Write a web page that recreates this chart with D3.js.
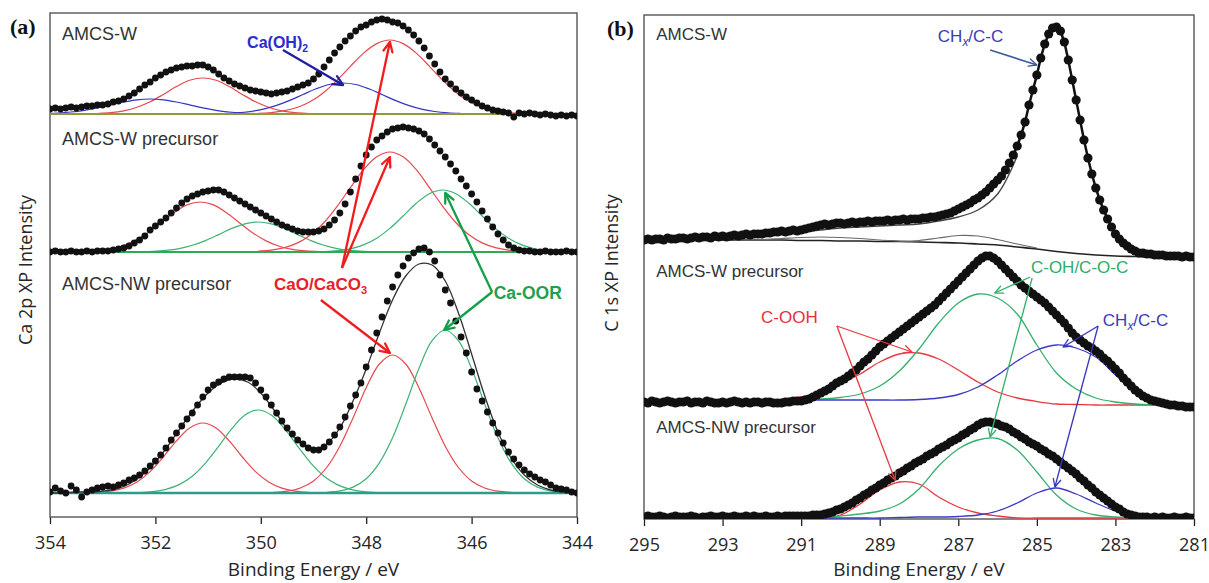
<!DOCTYPE html>
<html>
<head>
<meta charset="utf-8">
<script src="https://cdn.jsdelivr.net/npm/d3@7/dist/d3.min.js"></script>
<style>
  body { margin: 0; background: #fff; }
  svg { display: block; }
</style>
</head>
<body>
<script>
// ---------- Ca 2p panel (a) ----------
const caTicks = [354, 352, 350, 348, 346, 344];
const caDotStart = 354, caDotStep = 0.1, caPeakStep = 0.25;
const caOffsets = [403, 265, 24];

// measured points, intensity above each spectrum's baseline
const caW = [
  5, 6, 5, 6, 7, 6, 7, 8, 8, 9,
  9, 10, 12, 13, 15, 18, 21, 25, 29, 32,
  36, 39, 42, 44, 46, 47, 48, 48, 49, 49,
  47, 44, 40, 36, 33, 30, 28, 26, 24, 23,
  22, 21, 20, 21, 22, 23, 25, 27, 29, 31,
  35, 40, 47, 54, 61, 67, 73, 78, 83, 87,
  89, 92, 94, 95, 94, 92, 91, 88, 84, 79,
  73, 66, 58, 50, 42, 35, 30, 25, 21, 17,
  14, 11, 8, 6, 4, 3, 2, 1, -3, 1,
  0, 1, 0, -1, 0, -1, -2, -1, -2, -1, -2
];
const caWPre = [
  0, 1, 0, 0, 1, 0, 0, 1, 0, 1,
  1, 1, 2, 3, 4, 6, 9, 12, 16, 22,
  26, 30, 34, 39, 44, 49, 53, 56, 58, 60,
  61, 62, 62, 60, 57, 54, 51, 48, 45, 42,
  39, 36, 33, 30, 27, 25, 23, 21, 20, 20,
  20, 21, 23, 27, 32, 39, 48, 60, 73, 86,
  97, 105, 112, 116, 120, 123, 124, 125, 124, 123,
  121, 118, 113, 107, 101, 95, 88, 81, 73, 66,
  58, 50, 41, 33, 25, 18, 12, 7, 4, 2,
  1, 1, 0, 0, 1, 0, 0, 0, 1, 0, 0
];
const caNWPre = [
  1, 5, 2, 0, 7, 3, -4, 1, 3, 5,
  6, 7, 6, 8, 10, 13, 15, 18, 22, 27,
  32, 38, 45, 53, 60, 67, 74, 80, 88, 96,
  103, 108, 111, 114, 116, 116, 116, 116, 115, 110,
  103, 96, 88, 80, 72, 65, 59, 53, 49, 45,
  43, 43, 46, 51, 58, 66, 76, 87, 98, 110,
  126, 143, 160, 176, 192, 206, 218, 227, 235, 240,
  244, 245, 241, 232, 218, 203, 190, 172, 156, 140,
  121, 104, 92, 81, 70, 60, 50, 41, 34, 28,
  23, 19, 16, 13, 11, 8, 5, 4, 3, 1, 0
];
// envelope of the fit for AMCS-NW precursor, every 0.25 eV from 354
const caNWFit = [
  0, 0, 1, 1, 2, 4, 9, 18, 31, 48, 67, 85, 100, 110, 114, 111, 100, 83, 64, 50,
  44, 49, 65, 92, 124, 160, 193, 217, 229, 228, 212, 180, 139, 97, 61, 35, 18, 8, 3, 1, 0
];
// fitted components: [spectrum, species, first energy, values every 0.25 eV]
const caPeaks = [
  [0, "CaO", 353.35, [0.1, 0.5, 1.3, 3.2, 6.7, 12.2, 19.6, 27.5, 33.7, 36, 33.7, 27.5, 19.6, 12.2, 6.7, 3.2, 1.3, 0.5, 0.1]],
  [0, "CaO", 350.05, [0.6, 1.4, 3.3, 6.7, 12.7, 21.8, 33.9, 47.7, 60.9, 70.4, 74, 70.4, 60.9, 47.7, 33.9, 21.8, 12.7, 6.7, 3.3, 1.4, 0.6]],
  [0, "CaOH", 354.1, [0.4, 1.0, 2.0, 3.7, 6.2, 9.1, 12.0, 14.2, 15, 14.2, 12.0, 9.1, 6.2, 3.7, 2.0, 1.0, 0.4, 0.2]],
  [0, "CaOH", 350.95, [0.2, 0.5, 1.1, 2.5, 4.9, 8.6, 13.6, 19.5, 25.2, 29.5, 31, 29.5, 25.2, 19.5, 13.6, 8.6, 4.9, 2.5, 1.1, 0.5, 0.2]],
  [1, "CaO", 353.4, [0.4, 1.1, 2.6, 5.7, 11.1, 19.1, 29.1, 39.3, 47.1, 50, 47.1, 39.3, 29.1, 19.1, 11.1, 5.7, 2.6, 1.1, 0.4]],
  [1, "CaOOR", 352.3, [0.2, 0.6, 1.6, 3.4, 6.7, 11.4, 17.4, 23.6, 28.2, 30, 28.2, 23.6, 17.4, 11.4, 6.7, 3.4, 1.6, 0.6, 0.2]],
  [1, "CaO", 350.05, [0.8, 1.9, 4.4, 9.1, 17.2, 29.5, 45.8, 64.4, 82.3, 95.2, 100, 95.2, 82.3, 64.4, 45.8, 29.5, 17.2, 9.1, 4.4, 1.9, 0.8]],
  [1, "CaOOR", 348.8, [0.5, 1.3, 3.2, 7.1, 13.8, 23.6, 36.0, 48.7, 58.3, 62, 58.3, 48.7, 36.0, 23.6, 13.8, 7.1, 3.2, 1.3, 0.5]],
  [2, "CaO", 353.35, [0.2, 0.6, 1.9, 4.9, 11.0, 21.4, 36.0, 52.1, 65.0, 70, 65.0, 52.1, 36.0, 21.4, 11.0, 4.9, 1.9, 0.6, 0.2]],
  [2, "CaOOR", 352.3, [0.5, 1.4, 3.7, 8.4, 16.8, 29.9, 46.7, 64.3, 77.9, 83, 77.9, 64.3, 46.7, 29.9, 16.8, 8.4, 3.7, 1.4, 0.5]],
  [2, "CaO", 349.75, [0.6, 1.8, 5.0, 12.1, 25.5, 46.8, 75.1, 105.3, 129.0, 138, 129.0, 105.3, 75.1, 46.8, 25.5, 12.1, 5.0, 1.8, 0.6]],
  [2, "CaOOR", 348.75, [0.7, 2.1, 5.9, 14.3, 30.2, 55.3, 88.7, 124.4, 152.4, 163, 152.4, 124.4, 88.7, 55.3, 30.2, 14.3, 5.9, 2.1, 0.7]]
];

// ---------- C 1s panel (b) ----------
const cTicks = [295, 293, 291, 289, 287, 285, 283, 281];
const cDotStart = 295, cDotStep = 0.1, cPeakStep = 0.5;
const cOffsets = [279, 117, 2];

const cW = [
  0, 1, 0, 1, 1, 0, 2, 1, 1, 2,
  2, 1, 2, 3, 2, 3, 3, 2, 4, 3,
  4, 3, 4, 5, 4, 5, 6, 5, 6, 6,
  6, 7, 7, 8, 8, 9, 8, 9, 10, 9,
  10, 11, 12, 13, 14, 15, 16, 15, 16, 17,
  17, 16, 17, 18, 17, 18, 18, 19, 18, 19,
  19, 19, 20, 19, 20, 20, 21, 20, 21, 21,
  21, 22, 22, 23, 23, 24, 25, 26, 27, 29,
  31, 33, 35, 37, 40, 42, 45, 48, 52, 56,
  60, 64, 70, 77, 85, 94, 105, 118, 135, 150,
  165, 182, 196, 206, 212, 213, 209, 198, 180, 160,
  140, 120, 100, 82, 66, 52, 40, 30, 21, 13,
  6, 1, -3, -6, -9, -11, -13, -13, -14, -14,
  -15, -15, -15, -16, -16, -16, -16, -17, -16, -17,
  -17
];
const cWPre = [
  0, -1, 1, 0, -1, 0, 1, 0, -1, 0,
  0, 1, -1, 0, 0, -1, 1, 0, -1, -1,
  0, -1, 0, 1, 0, -1, 0, -1, 0, 0,
  -1, 0, 0, -1, -1, -1, 0, 0, 1, 1,
  1, 2, 3, 5, 7, 9, 11, 13, 16, 19,
  21, 23, 26, 29, 32, 36, 40, 43, 47, 51,
  55, 58, 61, 64, 67, 70, 73, 76, 79, 82,
  85, 88, 91, 94, 97, 101, 105, 109, 113, 117,
  121, 125, 129, 133, 137, 141, 144, 146, 146, 144,
  141, 137, 133, 129, 125, 121, 117, 114, 111, 108,
  105, 102, 99, 95, 91, 87, 83, 79, 74, 69,
  65, 62, 59, 56, 54, 51, 48, 44, 41, 37,
  33, 29, 24, 20, 16, 12, 9, 6, 4, 2,
  1, 0, -1, -2, -3, -3, -4, -4, -5, -5,
  -5
];
const cNWPre = [
  0, 1, 0, 0, 1, 0, -1, 0, 1, 0,
  0, 0, 1, 0, -1, 0, 0, 1, 0, 0,
  1, 0, 0, 1, 0, 0, 1, 0, 1, 0,
  0, 1, 0, 0, 1, 0, 1, 1, 1, 1,
  1, 1, 1, 2, 2, 2, 3, 4, 5, 7,
  8, 10, 12, 14, 17, 19, 22, 24, 27, 29,
  32, 34, 37, 39, 41, 44, 46, 49, 51, 54,
  56, 58, 61, 63, 65, 68, 70, 72, 75, 77,
  79, 82, 84, 87, 89, 92, 94, 95, 95, 94,
  93, 91, 90, 88, 85, 83, 80, 78, 75, 73,
  71, 68, 66, 63, 61, 58, 55, 52, 49, 46,
  43, 39, 36, 32, 29, 25, 22, 19, 16, 13,
  10, 8, 5, 3, 2, 1, 0, 0, 0, -1,
  0, -1, 0, -1, -1, 0, -1, -1, 0, -1,
  -1
];
// AMCS-W: background, two minor components and the shoulder of the fit (every 0.5 eV)
const cWBackground = [0, 0, 0, 0, 0, 0, 0, 0, -0.5, -0.5, -1, -1, -1.5, -1.5, -2, -2.5, -3, -4, -5, -7, -9, -11.5, -13.5, -15, -16, -16.5, -17, -17, -17];
const cWMinor = [
  [292.5, [0, 0.5, 1.5, 2.5, 3, 2.5, 1.5, 0, -1, -2]],
  [288.5, [-1.5, -0.5, 2, 4.5, 4, 0.5, -4, -8]]
];
const cWShoulder = [291.0, [8, 10, 12, 13, 14, 15, 16, 19, 23, 30, 46, 84]];
// fitted components: [spectrum, species, first energy, values every 0.5 eV]
const cPeaks = [
  [1, "COOH", 291.5, [3, 5, 10, 18, 28, 40, 48, 49, 43, 32, 20, 10, 4, 0.5, -2, -2.5, -3, -3, -3, -3]],
  [1, "COH", 291.0, [2, 3, 4.5, 8, 16, 31, 53, 79, 99, 108, 104, 88, 57, 29, 13, 4, 0, -2, -3]],
  [1, "CHx", 291.0, [2, 2, 2, 2, 2, 2, 2.5, 4, 7.5, 15, 27, 41, 52, 57, 54, 45, 27, 9]],
  [2, "COOH", 290.5, [-1, 2, 13, 27, 35, 33, 20, 10, 4, 1, -1, -1, -1, -1, -1, -1, -1]],
  [2, "COH", 290.5, [-1, 1, 3, 6, 13, 28, 51, 68, 77, 78.5, 67, 45, 22, 8, 2, 0, -1]],
  [2, "CHx", 290.5, [-1, -1, -1, -1, -0.5, 0, 0, 0.5, 2, 6, 14, 24, 29, 23, 14, 6, 1]]
];

// ---------- styles ----------
const lineColour = {
  CaO: "#e8484f", CaOH: "#3434c4", CaOOR: "#3db374",
  COOH: "#e8383f", COH: "#34b06c", CHx: "#3a3ac6"
};
const arrowColour = {
  CaO: "#f21c1c", CaOH: "#1f1fa0", CaOOR: "#14a04a",
  COOH: "#e83a40", COH: "#30b06a", CHx: "#3636c0", CHxTop: "#40599a"
};
const baselineColour = ["#8e9a3c", "#2eaa55", "#2e9c8c"];

const svg = d3.select("body").append("svg").attr("width", 1209).attr("height", 583);
const defs = svg.append("defs");

const caX = d3.scaleLinear().domain([354, 344]).range([50, 577]);
const caY = d3.scaleLinear().domain([0, 504]).range([517, 13]);
const cX = d3.scaleLinear().domain([295, 281]).range([644, 1194]);
const cY = d3.scaleLinear().domain([0, 504]).range([519, 15]);

function points(start, step, values, offset) {
  return values.map((v, i) => [start - i * step, offset + v]);
}

function frame(x, y, ticks, id) {
  const [left, right] = x.range();
  const [bottom, top] = y.range();
  defs.append("clipPath").attr("id", id).append("rect")
    .attr("x", left).attr("y", top).attr("width", right - left).attr("height", bottom - top);
  const axis = svg.append("g")
    .attr("transform", `translate(0,${bottom})`)
    .call(d3.axisBottom(x).tickValues(ticks).tickSize(7).tickSizeOuter(0).tickPadding(12).tickFormat(d3.format("d")));
  axis.select(".domain").remove();
  axis.selectAll("line").attr("stroke", "#222").attr("stroke-width", 1.3);
  axis.selectAll("text").attr("font-family", "Open Sans").attr("font-size", 18).attr("fill", "#262626");
  svg.append("rect")
    .attr("x", left).attr("y", top).attr("width", right - left).attr("height", bottom - top)
    .attr("fill", "none").attr("stroke", "#555").attr("stroke-width", 1.4);
  svg.append("text")
    .attr("x", (left + right) / 2).attr("y", 576)
    .attr("text-anchor", "middle").attr("font-family", "Open Sans").attr("font-size", 19).attr("fill", "#262626")
    .text("Binding Energy / eV");
  return svg.append("g").attr("clip-path", `url(#${id})`);
}

function arrowMarker(id, colour, size, width) {
  defs.append("marker").attr("id", id)
    .attr("viewBox", "0 0 10 10").attr("refX", 9).attr("refY", 5)
    .attr("markerWidth", size).attr("markerHeight", size)
    .attr("markerUnits", "userSpaceOnUse").attr("orient", "auto")
    .append("path").attr("d", "M1,1.2L9,5L1,8.8")
    .attr("fill", "none").attr("stroke", colour).attr("stroke-width", width)
    .attr("stroke-linecap", "round").attr("stroke-linejoin", "round");
}

function label(x, y, parts, opts) {
  const t = svg.append("text").attr("x", x).attr("y", y)
    .attr("font-family", opts.family || "Liberation Sans")
    .attr("font-size", opts.size).attr("font-weight", opts.weight || "normal")
    .attr("fill", opts.colour);
  parts.forEach(([s, kind]) => {
    const span = t.append("tspan").text(s);
    if (kind === "sub") span.attr("dy", 4).attr("font-size", opts.size * 0.65);
    if (kind === "subi") span.attr("dy", 4).attr("font-size", opts.size * 0.7).attr("font-style", "italic");
    if (kind === "up") span.attr("dy", -4);
  });
}

function yTitle(x, y, text) {
  svg.append("text").attr("transform", `translate(${x},${y}) rotate(-90)`)
    .attr("text-anchor", "middle").attr("font-family", "Open Sans").attr("font-size", 18).attr("fill", "#262626")
    .text(text);
}

// ---------- panel (a) ----------
const gA = frame(caX, caY, caTicks, "clipA");
const lineA = d3.line().x(d => caX(d[0])).y(d => caY(d[1]));
const smoothA = d3.line().x(d => caX(d[0])).y(d => caY(d[1])).curve(d3.curveCatmullRom.alpha(0.5));

caPeaks.forEach(([s, species, e0, vals]) => {
  gA.append("path").attr("d", smoothA(points(e0, caPeakStep, vals, caOffsets[s])))
    .attr("fill", "none").attr("stroke", lineColour[species]).attr("stroke-width", 1.2);
});
caOffsets.forEach((off, s) => {
  gA.append("path").attr("d", lineA([[354, off], [344, off]]))
    .attr("fill", "none").attr("stroke", baselineColour[s]).attr("stroke-width", s === 2 ? 2.4 : 2);
});
gA.append("path").attr("d", smoothA(points(354, caPeakStep, caNWFit, caOffsets[2])))
  .attr("fill", "none").attr("stroke", "#333").attr("stroke-width", 1.3);

[caW, caWPre, caNWPre].forEach((vals, s) => {
  gA.append("g").selectAll("circle")
    .data(points(caDotStart, caDotStep, vals, caOffsets[s]))
    .join("circle")
    .attr("cx", d => caX(d[0])).attr("cy", d => caY(d[1])).attr("r", 3.4).attr("fill", "#111");
});

// annotations (data coordinates)
const caArrows = [
  ["CaOH", [349.58, 467], [348.44, 432]],
  ["CaO", [348.46, 249], [347.55, 475]],
  ["CaO", [348.46, 249], [347.55, 360]],
  ["CaO", [348.86, 217], [347.55, 164]],
  ["CaOOR", [345.61, 225], [346.5, 324]],
  ["CaOOR", [345.61, 225], [346.52, 187]]
];
Object.keys(arrowColour).forEach(k => {
  arrowMarker("a-" + k, arrowColour[k], 12, 1.9);
  arrowMarker("b-" + k, arrowColour[k], 10, 1.3);
});
caArrows.forEach(([k, p0, p1]) => {
  svg.append("line")
    .attr("x1", caX(p0[0])).attr("y1", caY(p0[1]))
    .attr("x2", caX(p1[0])).attr("y2", caY(p1[1]))
    .attr("stroke", arrowColour[k]).attr("stroke-width", 2.3)
    .attr("marker-end", `url(#a-${k})`);
});

const caNames = [["AMCS-W", 477], ["AMCS-W precursor", 372], ["AMCS-NW precursor", 227]];
caNames.forEach(([name, v]) => label(caX(353.77), caY(v), [[name]], { size: 18, colour: "#333" }));
label(caX(350.26), caY(469), [["Ca(OH)"], ["2", "sub"]], { size: 16, weight: "bold", colour: "#2b2bd0" });
label(caX(349.75), caY(227), [["CaO/CaCO"], ["3", "sub"]], { size: 17, weight: "bold", colour: "#e8202a" });
label(caX(345.58), caY(218), [["Ca-OOR"]], { size: 17.5, weight: "bold", colour: "#1ea04c" });
label(10, 34, [["(a)"]], { size: 22, weight: "bold", family: "Liberation Serif", colour: "#111" });
yTitle(32, 270, "Ca 2p XP Intensity");

// ---------- panel (b) ----------
const gB = frame(cX, cY, cTicks, "clipB");
const lineB = d3.line().x(d => cX(d[0])).y(d => cY(d[1]));
const smoothB = d3.line().x(d => cX(d[0])).y(d => cY(d[1])).curve(d3.curveCatmullRom.alpha(0.5));

cPeaks.forEach(([s, species, e0, vals]) => {
  gB.append("path").attr("d", smoothB(points(e0, cPeakStep, vals, cOffsets[s])))
    .attr("fill", "none").attr("stroke", lineColour[species]).attr("stroke-width", 1.3);
});
gB.append("path").attr("d", smoothB(points(295, cPeakStep, cWBackground, cOffsets[0])))
  .attr("fill", "none").attr("stroke", "#222").attr("stroke-width", 1.6);
cWMinor.forEach(([e0, vals]) => {
  gB.append("path").attr("d", smoothB(points(e0, cPeakStep, vals, cOffsets[0])))
    .attr("fill", "none").attr("stroke", "#6a6a6a").attr("stroke-width", 1.2);
});
gB.append("path").attr("d", smoothB(points(cWShoulder[0], cPeakStep, cWShoulder[1], cOffsets[0])))
  .attr("fill", "none").attr("stroke", "#444").attr("stroke-width", 1.4);

[cW, cWPre, cNWPre].forEach((vals, s) => {
  const pts = points(cDotStart, cDotStep, vals, cOffsets[s]);
  gB.append("path").attr("d", lineB(pts)).attr("fill", "none").attr("stroke", "#111").attr("stroke-width", 2.5);
  gB.append("g").selectAll("circle").data(pts).join("circle")
    .attr("cx", d => cX(d[0])).attr("cy", d => cY(d[1])).attr("r", 4.6).attr("fill", "#111");
});

const cArrows = [
  ["CHxTop", [286.19, 469], [285.0, 454]],
  ["COOH", [290.09, 193], [288.18, 167]],
  ["COOH", [290.09, 193], [288.61, 39]],
  ["COH", [285.17, 242], [286.07, 226]],
  ["COH", [285.12, 241], [286.19, 82]],
  ["CHx", [283.44, 193], [284.33, 172]],
  ["CHx", [283.44, 193], [284.54, 32]]
];
cArrows.forEach(([k, p0, p1]) => {
  svg.append("line")
    .attr("x1", cX(p0[0])).attr("y1", cY(p0[1]))
    .attr("x2", cX(p1[0])).attr("y2", cY(p1[1]))
    .attr("stroke", arrowColour[k]).attr("stroke-width", k === "CHxTop" ? 1.6 : 1.3)
    .attr("marker-end", `url(#b-${k})`);
});

const cNames = [["AMCS-W", 479], ["AMCS-W precursor", 242], ["AMCS-NW precursor", 86]];
cNames.forEach(([name, v]) => label(cX(294.69), cY(v), [[name]], { size: 17, colour: "#333" }));
label(cX(287.52), cY(477), [["CH"], ["x", "subi"], ["/C-C", "up"]], { size: 17, colour: "#3b3bb8" });
label(cX(285.15), cY(246), [["C-OH/C-O-C"]], { size: 17, colour: "#2fab68" });
label(cX(292.02), cY(196), [["C-OOH"]], { size: 17, colour: "#e8303a" });
label(cX(283.32), cY(193), [["CH"], ["x", "subi"], ["/C-C", "up"]], { size: 17, colour: "#3b3bb8" });
label(607, 36, [["(b)"]], { size: 22, weight: "bold", family: "Liberation Serif", colour: "#111" });
yTitle(618, 263, "C 1s XP Intensity");
</script>
</body>
</html>
